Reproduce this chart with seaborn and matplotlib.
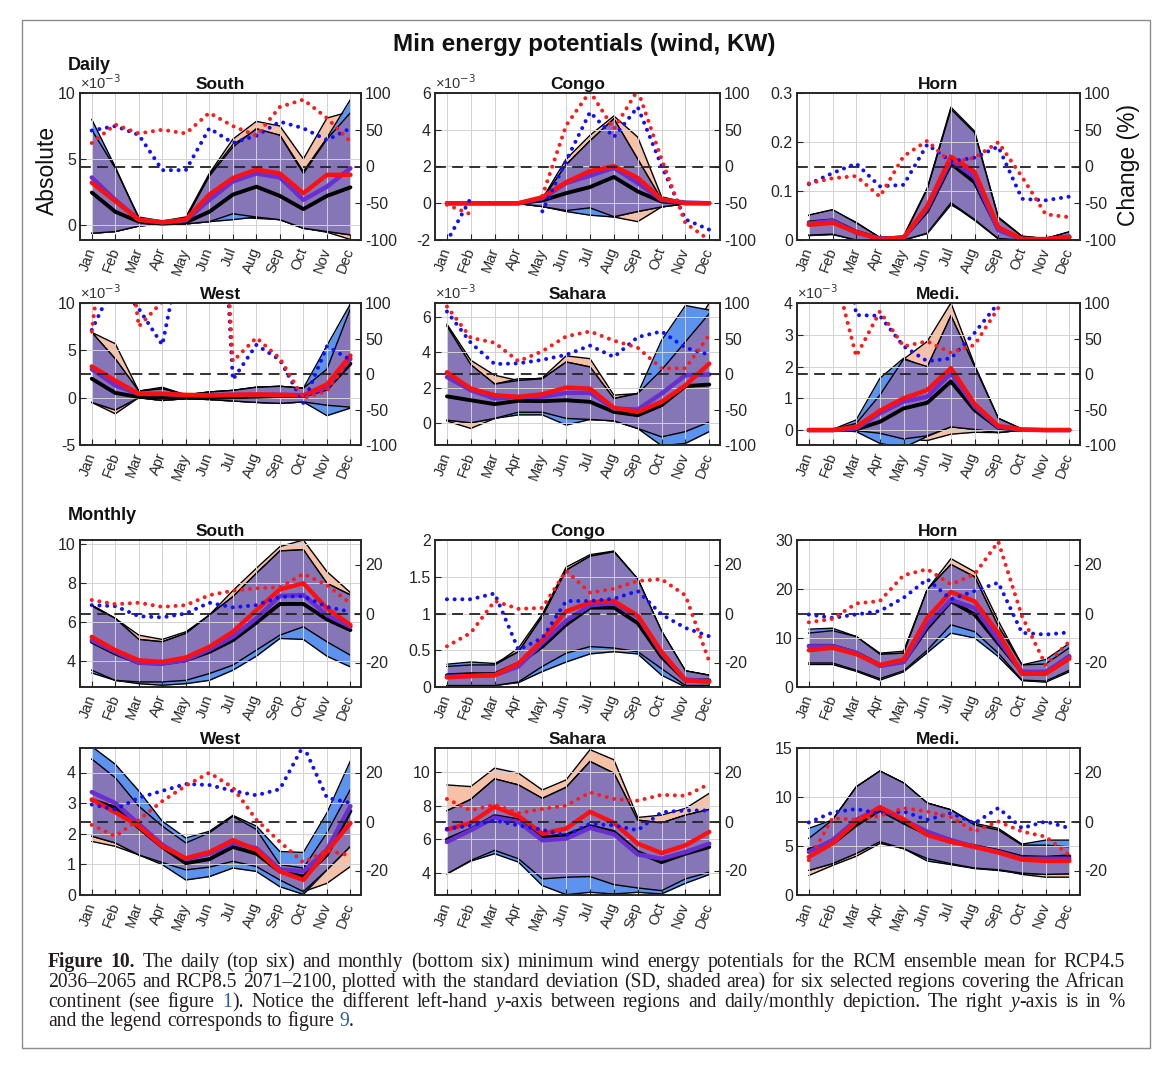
import numpy as np
import matplotlib
matplotlib.use("Agg")
import matplotlib.pyplot as plt
import seaborn as sns
from matplotlib.patches import Rectangle
from matplotlib.ticker import FuncFormatter

nan = np.nan
months = ["Jan", "Feb", "Mar", "Apr", "May", "Jun", "Jul", "Aug", "Sep", "Oct", "Nov", "Dec"]

# ------------------------- DAILY (x1e-3 except Horn) -------------------------
# South
ds_hist = [2.46, 1.0, 0.25, 0.1, 0.2, 1.0, 2.3, 2.9, 2.2, 1.2, 2.2, 2.85]
ds_r45 = [3.6, 1.9, 0.4, 0.2, 0.35, 1.9, 3.3, 3.9, 3.6, 1.9, 2.9, 4.3]
ds_r85 = [3.2, 1.8, 0.4, 0.2, 0.4, 2.3, 3.55, 4.2, 3.9, 2.4, 3.8, 3.8]
ds_hist_hi = [7.2, 4.3, 0.5, 0.25, 0.45, 3.7, 5.9, 7.3, 6.8, 3.9, 6.5, 8.5]
ds_hist_lo = [-0.63, -0.5, -0.08, 0.08, 0.08, 0.25, 0.85, 0.6, 0.4, -0.25, -0.5, -0.75]
ds_r45_hi = [8.0, 4.4, 0.5, 0.25, 0.45, 3.8, 6.1, 7.2, 6.8, 4.05, 6.6, 9.5]
ds_r45_lo = [-0.63, -0.5, -0.08, 0.08, 0.08, 0.25, 0.4, 0.6, 0.4, -0.25, -0.5, -0.75]
ds_r85_hi = [7.1, 4.2, 0.6, 0.3, 0.6, 3.9, 6.5, 7.85, 7.5, 5.0, 8.1, 8.6]
ds_r85_lo = [-0.63, -0.5, -0.08, 0.08, 0.08, 0.25, 0.6, 0.5, 0.4, -0.25, -0.55, -1.1]
ds_c45 = [49, 55, 43, -5, -5, 52, 32, 42, 61, 52, 36, 52]
ds_c85 = [32, 57, 45, 50, 45, 73, 55, 42, 81, 91, 66, 34]

# Congo
dc_hist = [0, 0, 0, 0, 0.15, 0.55, 0.88, 1.43, 0.64, 0.09, 0, 0]
dc_r45 = [0, 0, 0, 0, 0.27, 1.1, 1.5, 1.93, 1.1, 0.18, 0.04, 0]
dc_r85 = [0, 0, 0, 0, 0.33, 1.15, 1.75, 2.02, 1.38, 0.22, 0, 0]
dc_hist_hi = [0.05, 0.05, 0.05, 0.05, 0.22, 2.1, 3.4, 4.6, 2.4, 0.2, 0.05, 0.05]
dc_hist_lo = [-0.02, -0.02, -0.02, -0.02, -0.18, -0.4, -0.25, -0.73, -0.45, -0.2, -0.03, -0.02]
dc_r45_hi = [0.05, 0.05, 0.05, 0.05, 0.22, 2.1, 3.4, 4.6, 2.4, 0.2, 0.05, 0.05]
dc_r45_lo = [-0.02, -0.02, -0.02, -0.02, -0.18, -0.45, -0.65, -0.75, -0.45, -0.2, -0.03, -0.02]
dc_r85_hi = [0.05, 0.05, 0.05, 0.05, 0.25, 2.4, 3.7, 4.75, 3.6, 0.35, 0.05, 0.05]
dc_r85_lo = [-0.02, -0.02, -0.02, -0.02, -0.18, -0.4, -0.5, -0.75, -1.0, -0.2, -0.03, -0.02]
dc_c45 = [-102, -43, nan, nan, -61, 8, 74, 40, 81, 1, -72, -86]
dc_c85 = [-52, -65, nan, nan, -40, 56, 102, 51, 104, 10, -77, -100]

# Horn
dh_hist = [0.036, 0.040, 0.017, 0.003, 0.005, 0.059, 0.156, 0.118, 0.021, 0.002, 0.002, 0.007]
dh_r45 = [0.034, 0.039, 0.015, 0.003, 0.004, 0.065, 0.163, 0.128, 0.020, 0.002, 0.001, 0.006]
dh_r85 = [0.031, 0.035, 0.016, 0.002, 0.005, 0.069, 0.170, 0.139, 0.026, 0.002, 0.002, 0.006]
dh_hist_hi = [0.051, 0.062, 0.035, 0.005, 0.007, 0.104, 0.267, 0.219, 0.045, 0.007, 0.003, 0.017]
dh_hist_lo = [0.010, 0.012, 0.0, 0.0, 0.0, 0.014, 0.076, 0.042, 0.003, 0.0, 0.0, 0.0]
dh_r45_hi = [0.050, 0.060, 0.034, 0.005, 0.007, 0.102, 0.265, 0.217, 0.044, 0.007, 0.003, 0.016]
dh_r45_lo = [0.009, 0.011, 0.0, 0.0, 0.0, 0.013, 0.072, 0.044, 0.003, 0.0, 0.0, 0.0]
dh_r85_hi = [0.050, 0.061, 0.036, 0.005, 0.008, 0.106, 0.271, 0.222, 0.047, 0.008, 0.003, 0.016]
dh_r85_lo = [0.010, 0.013, 0.0, 0.0, 0.0, 0.014, 0.074, 0.040, 0.002, 0.0, 0.0, 0.0]
dh_c45 = [-24, -9, 4, -27, -25, 30, 7, 12, 27, -44, -46, -41]
dh_c85 = [-23, -16, -13, -41, 14, 35, 5, 12, 33, -14, -65, -69]

# West
dw_hist = [2.0, 0.5, 0.07, 0.0, 0.0, 0.0, 0.05, 0.1, 0.18, 0.18, 0.95, 3.6]
dw_r45 = [3.0, 1.3, 0.4, 0.4, 0.25, 0.25, 0.3, 0.3, 0.3, 0.25, 1.1, 4.1]
dw_r85 = [3.3, 1.8, 0.4, 0.4, 0.3, 0.25, 0.3, 0.35, 0.3, 0.25, 1.4, 4.45]
dw_hist_hi = [6.9, 4.1, 0.7, 0.95, 0.3, 0.6, 0.77, 1.1, 1.2, 1.0, 3.0, 9.4]
dw_hist_lo = [-0.5, -1.3, 0.0, -0.3, -0.1, -0.2, -0.35, -0.5, -0.6, -0.45, -0.8, -1.0]
dw_r45_hi = [6.9, 4.1, 0.7, 0.95, 0.3, 0.6, 0.77, 1.1, 1.2, 1.0, 5.5, 9.9]
dw_r45_lo = [-0.5, -1.3, 0.0, -0.3, -0.1, -0.2, -0.35, -0.5, -0.6, -0.45, -1.9, -1.1]
dw_r85_hi = [6.9, 5.7, 0.7, 1.1, 0.3, 0.6, 0.77, 1.1, 1.2, 1.0, 3.0, 9.9]
dw_r85_lo = [-0.5, -1.7, 0.0, -0.3, -0.1, -0.2, -0.35, -0.5, -0.6, -0.45, -0.8, -1.0]
dw_c45 = [62, 131, 92, 41, 205, 600, -8, 41, 20, -41, 39, 20]
dw_c85 = [60, 320, 67, 102, 300, 600, 18, 51, 22, -34, -24, 22]

# Sahara
dsa_hist = [1.5, 1.28, 1.06, 1.25, 1.23, 1.28, 1.19, 0.62, 0.43, 1.0, 2.08, 2.17]
dsa_r45 = [2.6, 1.85, 1.38, 1.47, 1.47, 1.7, 1.7, 0.81, 0.75, 1.66, 2.7, 2.74]
dsa_r85 = [2.87, 1.94, 1.57, 1.47, 1.62, 2.0, 1.94, 0.85, 0.62, 1.19, 2.13, 3.36]
dsa_hist_hi = [5.5, 3.3, 2.2, 2.4, 2.5, 3.45, 3.17, 1.38, 1.66, 3.0, 4.6, 6.2]
dsa_hist_lo = [0.15, 0.0, 0.25, 0.6, 0.6, 0.25, 0.19, 0.11, -0.32, -0.8, -0.5, 0.05]
dsa_r45_hi = [5.5, 3.3, 2.2, 2.5, 2.5, 3.45, 3.17, 1.38, 1.66, 4.68, 6.66, 6.4]
dsa_r45_lo = [0.15, 0.0, 0.25, 0.45, 0.45, -0.13, 0.19, 0.11, -0.32, -1.3, -1.17, -0.5]
dsa_r85_hi = [5.6, 3.55, 2.7, 2.4, 2.55, 3.8, 3.64, 1.57, 1.66, 3.0, 4.6, 6.8]
dsa_r85_lo = [0.1, -0.32, 0.25, 0.6, 0.6, 0.25, 0.19, 0.11, -0.32, -0.8, -0.5, 0.05]
dsa_c45 = [88, 44, 14, 15, 20, 27, 40, 24, 52, 60, 37, 27]
dsa_c85 = [95, 51, 44, 18, 32, 53, 60, 47, 37, 8, 8, 55]

# Medi.
dm_hist = [0, 0, 0.02, 0.26, 0.68, 0.86, 1.53, 0.63, 0.07, 0, 0, 0]
dm_r45 = [0, 0, 0.05, 0.53, 0.9, 1.05, 1.79, 0.74, 0.1, 0.01, 0, 0]
dm_r85 = [0, 0, 0.1, 0.61, 1.0, 1.26, 1.95, 0.82, 0.13, 0.02, 0, 0]
dm_hist_hi = [0, 0.02, 0.21, 1.1, 2.23, 2.0, 3.6, 2.0, 0.37, 0.03, 0, 0]
dm_hist_lo = [0, 0, -0.02, -0.1, -0.28, -0.18, 0.1, 0.02, -0.08, 0, 0, 0]
dm_r45_hi = [0, 0.02, 0.32, 1.63, 2.26, 1.95, 3.6, 2.0, 0.37, 0.03, 0, 0]
dm_r45_lo = [0, 0, -0.05, -0.42, -0.55, -0.2, 0.1, 0.02, -0.08, 0, 0, 0]
dm_r85_hi = [0, 0.02, 0.21, 1.1, 2.23, 2.79, 4.0, 2.05, 0.37, 0.03, 0, 0]
dm_r85_lo = [0, 0, -0.02, -0.1, -0.28, -0.33, -0.13, -0.07, -0.08, 0, 0, 0]
dm_c45 = [nan, 326, 83, 82, 39, 18, 22, 58, 100, nan, nan, nan]
dm_c85 = [nan, 156, 25, 88, 39, 46, 30, 41, 93, nan, nan, nan]

# ------------------------- MONTHLY -------------------------
# South
ms_hist = [4.98, 4.38, 3.9, 3.86, 4.03, 4.46, 5.06, 5.96, 6.92, 6.92, 6.13, 5.58]
ms_r45 = [5.06, 4.46, 3.9, 3.86, 4.05, 4.58, 5.23, 6.18, 7.33, 7.38, 6.35, 5.75]
ms_r85 = [5.23, 4.55, 4.03, 3.95, 4.17, 4.72, 5.49, 6.6, 7.67, 7.98, 6.69, 5.84]
ms_hist_hi = [6.81, 6.18, 5.1, 4.98, 5.41, 6.35, 7.29, 8.49, 9.64, 9.7, 7.98, 7.38]
ms_hist_lo = [3.52, 3.0, 2.92, 2.92, 3.0, 3.35, 3.78, 4.55, 5.32, 5.75, 4.98, 4.29]
ms_r45_hi = [6.86, 6.18, 5.1, 4.98, 5.41, 6.35, 7.29, 8.49, 9.64, 9.7, 7.98, 7.38]
ms_r45_lo = [3.38, 3.0, 2.83, 2.75, 2.83, 3.0, 3.52, 4.24, 5.15, 5.1, 4.24, 3.69]
ms_r85_hi = [6.86, 6.18, 5.32, 5.1, 5.49, 6.35, 7.6, 8.75, 9.86, 10.2, 8.58, 7.5]
ms_r85_lo = [3.52, 3.0, 2.92, 2.92, 3.0, 3.35, 3.78, 4.55, 5.32, 5.75, 4.98, 4.29]
ms_c45 = [3.4, 3.0, -1.1, -1.6, 0.0, 4.4, 2.5, 3.4, 6.8, 7.1, 2.7, 0.7]
ms_c85 = [5.5, 3.8, 4.4, 2.7, 3.4, 7.5, 9.3, 10.3, 10.7, 16.2, 11.6, 4.1]

# Congo
mc_hist = [0.16, 0.175, 0.175, 0.32, 0.55, 0.85, 1.08, 1.08, 0.87, 0.41, 0.09, 0.09]
mc_r45 = [0.14, 0.15, 0.16, 0.28, 0.6, 0.9, 1.11, 1.14, 0.96, 0.46, 0.1, 0.08]
mc_r85 = [0.13, 0.15, 0.16, 0.32, 0.64, 1.03, 1.15, 1.17, 0.97, 0.48, 0.09, 0.07]
mc_hist_hi = [0.28, 0.3, 0.3, 0.48, 0.96, 1.59, 1.78, 1.84, 1.47, 0.76, 0.22, 0.16]
mc_hist_lo = [0.02, 0.02, 0.02, 0.07, 0.28, 0.46, 0.55, 0.53, 0.48, 0.25, 0.02, 0.02]
mc_r45_hi = [0.31, 0.34, 0.32, 0.48, 0.96, 1.59, 1.78, 1.84, 1.47, 0.76, 0.22, 0.16]
mc_r45_lo = [0.02, 0.02, 0.02, 0.06, 0.21, 0.34, 0.45, 0.48, 0.45, 0.16, 0.0, 0.0]
mc_r85_hi = [0.28, 0.3, 0.3, 0.53, 0.99, 1.63, 1.8, 1.85, 1.47, 0.76, 0.22, 0.16]
mc_r85_lo = [0.02, 0.02, 0.02, 0.07, 0.28, 0.46, 0.55, 0.53, 0.48, 0.25, 0.02, 0.02]
mc_c45 = [5.8, 5.8, 8.2, -14.8, -10.0, 5.1, 5.1, 6.0, 9.2, -0.4, -5.9, -9.3]
mc_c85 = [-13.4, -7.9, 5.1, 1.9, 2.3, 17.4, 8.5, 10.1, 13.3, 14.0, 7.4, -19.6]

# Horn
mh_hist = [8.4, 8.4, 7.0, 4.5, 5.1, 12.0, 17.5, 14.8, 8.9, 3.1, 2.9, 6.3]
mh_r45 = [8.3, 8.3, 7.0, 4.3, 5.1, 12.7, 17.8, 16.1, 9.6, 3.1, 3.1, 6.2]
mh_r85 = [7.5, 8.0, 6.7, 4.5, 5.6, 14.1, 19.4, 17.5, 11.0, 2.7, 2.7, 5.8]
mh_hist_hi = [11.0, 11.5, 10.3, 6.7, 6.9, 19.9, 25.0, 22.5, 12.4, 4.5, 4.7, 8.0]
mh_hist_lo = [4.9, 4.9, 3.4, 1.7, 3.3, 7.5, 12.7, 11.3, 6.9, 1.4, 1.2, 3.4]
mh_r45_hi = [11.8, 12.0, 10.3, 6.7, 6.9, 19.9, 25.0, 22.5, 12.4, 4.5, 5.6, 8.9]
mh_r45_lo = [4.6, 4.6, 3.2, 1.4, 3.1, 7.0, 11.0, 10.0, 6.2, 1.3, 1.0, 3.1]
mh_r85_hi = [11.0, 11.5, 10.3, 6.9, 7.3, 19.9, 26.2, 23.5, 13.5, 4.5, 4.7, 8.0]
mh_r85_lo = [4.9, 4.9, 3.4, 1.7, 3.3, 7.5, 12.7, 11.3, 6.9, 1.4, 1.2, 3.4]
mh_c45 = [-0.4, -1.8, -0.4, 1.0, 6.4, 14.0, 5.8, 9.2, 12.6, -7.9, -8.6, -7.7]
mh_c85 = [-3.6, -2.2, 4.1, 5.1, 15.6, 18.1, 11.9, 16.0, 29.3, -1.1, -21.0, -11.4]

# West
mw_hist = [3.1, 2.85, 2.2, 1.57, 1.04, 1.17, 1.57, 1.35, 0.77, 0.6, 1.31, 2.74]
mw_r45 = [3.36, 3.0, 2.32, 1.64, 1.17, 1.35, 1.7, 1.53, 0.84, 0.77, 1.48, 2.9]
mw_r85 = [3.12, 2.7, 2.25, 1.59, 1.2, 1.4, 1.79, 1.48, 0.77, 0.49, 1.42, 2.35]
mw_hist_hi = [4.44, 3.83, 2.9, 2.25, 1.7, 2.03, 2.57, 2.14, 0.99, 0.88, 2.03, 3.45]
mw_hist_lo = [1.92, 1.7, 1.31, 1.06, 0.82, 0.91, 1.1, 0.93, 0.49, 0.11, 0.82, 1.59]
mw_r45_hi = [4.85, 4.27, 3.4, 2.41, 1.86, 2.08, 2.6, 2.25, 1.42, 1.39, 2.68, 4.38]
mw_r45_lo = [1.92, 1.7, 1.31, 0.99, 0.49, 0.6, 0.88, 0.77, 0.27, 0.02, 0.82, 1.59]
mw_r85_hi = [4.44, 3.83, 2.9, 2.25, 1.7, 2.03, 2.57, 2.14, 0.99, 0.88, 2.03, 3.45]
mw_r85_lo = [1.75, 1.59, 1.31, 1.06, 0.82, 0.91, 1.1, 0.93, 0.49, 0.11, 0.38, 0.93]
mw_c45 = [6.9, 4.9, 9.7, 12.5, 15.3, 14.9, 12.5, 10.7, 13.2, 31.0, 9.7, 7.6]
mw_c85 = [-1.4, -6.0, 0.7, 8.3, 14.6, 19.9, 13.9, 0.7, -8.3, -16.7, -11.8, -13.9]

# Sahara
msa_hist = [5.98, 6.58, 7.38, 7.14, 6.1, 6.24, 6.78, 6.44, 5.24, 4.64, 5.14, 5.54]
msa_r45 = [5.84, 6.54, 7.3, 7.04, 5.94, 6.04, 6.68, 6.3, 5.1, 4.84, 5.24, 5.74]
msa_r85 = [6.58, 6.98, 7.94, 7.38, 6.34, 6.64, 7.64, 6.98, 5.74, 5.18, 5.64, 6.44]
msa_hist_hi = [7.7, 8.38, 9.6, 9.24, 8.44, 9.1, 10.64, 9.94, 7.14, 6.98, 7.44, 7.78]
msa_hist_lo = [3.94, 4.74, 5.34, 4.84, 3.64, 3.74, 3.78, 3.3, 3.1, 2.94, 3.64, 4.04]
msa_r45_hi = [7.7, 8.38, 9.6, 9.24, 8.44, 9.1, 10.64, 9.94, 7.14, 6.98, 7.44, 7.78]
msa_r45_lo = [3.94, 4.7, 5.14, 4.64, 3.24, 2.7, 2.84, 2.74, 2.84, 2.74, 3.38, 3.9]
msa_r85_hi = [9.24, 9.14, 10.24, 9.94, 8.94, 9.54, 11.34, 10.74, 7.3, 7.44, 7.84, 8.74]
msa_r85_lo = [3.94, 4.74, 5.34, 4.84, 3.64, 3.74, 3.78, 3.3, 3.1, 2.94, 3.64, 4.04]
msa_c45 = [-3.0, -1.6, 0.4, -1.6, -3.4, -5.7, -0.9, -1.6, -3.6, 3.8, 4.5, 4.5]
msa_c85 = [9.2, 4.5, 6.9, 3.4, 5.1, 6.5, 11.9, 9.2, 8.5, 10.9, 10.5, 15.3]

# Medi.
mm_hist = [4.64, 5.26, 7.15, 8.69, 7.39, 6.22, 5.43, 4.98, 4.5, 3.88, 3.81, 3.95]
mm_r45 = [4.4, 5.6, 7.66, 8.87, 7.66, 6.46, 5.6, 4.91, 4.4, 3.71, 3.71, 3.71]
mm_r85 = [3.88, 5.26, 7.49, 8.97, 7.73, 6.12, 5.43, 4.91, 4.33, 3.61, 3.47, 3.47]
mm_hist_hi = [5.77, 7.66, 11.03, 12.65, 11.44, 9.38, 8.69, 7.15, 6.63, 5.09, 5.09, 4.91]
mm_hist_lo = [2.51, 3.2, 4.23, 5.43, 4.74, 3.71, 3.2, 2.75, 2.58, 2.23, 2.1, 2.16]
mm_r45_hi = [6.8, 7.66, 11.03, 12.65, 11.44, 9.38, 8.69, 7.32, 6.8, 5.19, 5.6, 5.6]
mm_r45_lo = [2.51, 3.2, 4.23, 5.43, 4.74, 3.47, 3.1, 2.7, 2.5, 2.2, 2.1, 2.16]
mm_r85_hi = [5.77, 7.66, 11.03, 12.65, 11.44, 9.38, 8.69, 7.15, 6.63, 5.09, 5.09, 4.91]
mm_r85_lo = [1.99, 3.02, 3.95, 5.26, 4.74, 3.71, 3.2, 2.75, 2.58, 2.1, 1.82, 1.82]
mm_c45 = [-0.4, 3.7, 5.1, 3.2, 4.1, 0.7, 3.4, -0.7, 5.5, -2.7, 0.0, -2.7]
mm_c85 = [-15.8, 1.4, 0.7, 2.3, 5.5, 4.1, 1.8, -4.1, 0.0, -4.1, -6.2, -13.7]

# ------------------------- styling -------------------------
sns.set_theme(style="white")
plt.rcParams["font.family"] = ["Liberation Sans", "DejaVu Sans"]
plt.rcParams["axes.unicode_minus"] = False
plt.rcParams["axes.axisbelow"] = "line"

SALMON = "#f7c1a8"
BLUE = "#5b93ee"
PURPLE = "#8776b7"
PURPLE_LINE = "#6a2fd0"
RED = "#ff1010"
DOT_BLUE = "#1010ff"
DOT_RED = "#ff1a1a"
TXT = "#262626"

W, H = 1173, 1068
fig = plt.figure(figsize=(W / 100, H / 100), dpi=100)
fig.patch.set_facecolor("white")

def px_rect(x0, x1, y0, y1):
    return [x0 / W, 1 - y1 / H, (x1 - x0) / W, (y1 - y0) / H]

cols = [(80, 361), (435, 720), (797, 1080)]
rows = [(93, 240), (303, 445), (540, 687), (748, 895)]
xm = np.arange(1, 13)
fmt = FuncFormatter(lambda v, p: f"{v:g}")

def seg_line(ax, ys, **kw):
    ys = np.asarray(ys, float)
    idx = np.where(~np.isnan(ys))[0]
    if len(idx) == 0:
        return
    groups = np.split(idx, np.where(np.diff(idx) != 1)[0] + 1)
    for g in groups:
        if len(g) > 1:
            sns.lineplot(x=xm[g], y=ys[g], ax=ax, **kw)

def panel(r, c, title, hist, r45, r85, hh, hl, bh, bl, sh, sl, c45, c85,
          ylim, yticks, sci, rlim, rticks):
    ax = fig.add_axes(px_rect(cols[c][0], cols[c][1], rows[r][0], rows[r][1]))
    for lo, hi, col, z in [(sl, sh, SALMON, 1.0), (bl, bh, BLUE, 1.1), (hl, hh, PURPLE, 1.2)]:
        ax.fill_between(xm, lo, hi, color=col, lw=0, zorder=z)
        for edge in (lo, hi):
            sns.lineplot(x=xm, y=edge, ax=ax, color="black", linewidth=1.0, zorder=z + 0.05)
    sns.lineplot(x=xm, y=hist, ax=ax, color="black", linewidth=2.8, zorder=2.0)
    sns.lineplot(x=xm, y=r45, ax=ax, color=PURPLE_LINE, linewidth=3.2, zorder=2.1)
    sns.lineplot(x=xm, y=r85, ax=ax, color=RED, linewidth=3.2, zorder=2.2)
    ax.set_xlim(0.5, 12.45)
    ax.set_ylim(*ylim)
    ax.set_yticks(yticks)
    ax.yaxis.set_major_formatter(fmt)
    ax.set_xticks(xm)
    ax.set_xticklabels(months, rotation=70, ha="right", va="center",
                       rotation_mode="anchor", fontsize=10.5, color=TXT)
    ax.tick_params(axis="x", bottom=True, direction="in", length=4, width=0.8, pad=6)
    ax.tick_params(axis="y", left=True, direction="in", length=4, width=0.8,
                   labelsize=11.5, pad=3, labelcolor=TXT)
    ax.grid(True, color="#d2d2d2", linewidth=0.7)
    ax.set_xlabel("")
    ax.set_ylabel("")
    for s in ax.spines.values():
        s.set_color("#222222")
        s.set_linewidth(1.1)
    ax.set_title(title, fontsize=12.5, fontweight="bold", pad=3, color="#111111")
    if sci:
        ax.text(0.0, 1.005, "×10$^{-3}$", transform=ax.transAxes, ha="left",
                va="bottom", fontsize=10.5, color="#333333")
    ax2 = ax.twinx()
    ax2.axhline(0, color="#222222", linewidth=1.3, linestyle=(0, (6, 3.5)), zorder=1)
    dot = (0, (0.01, 1.9))
    seg_line(ax2, c45, color=DOT_BLUE, linewidth=2.9, linestyle=dot,
             dash_capstyle="round", zorder=2)
    seg_line(ax2, c85, color=DOT_RED, linewidth=2.9, linestyle=dot,
             dash_capstyle="round", zorder=2.1)
    ax2.set_ylim(*rlim)
    ax2.set_yticks(rticks)
    ax2.yaxis.set_major_formatter(fmt)
    ax2.tick_params(axis="y", right=True, direction="in", length=4, width=0.8,
                    labelsize=11.5, pad=3, labelcolor=TXT)
    ax2.grid(False)
    ax2.set_ylabel("")
    ax2.set_xlim(0.5, 12.45)
    return ax, ax2

DR = (-100, 100)
DT = [-100, -50, 0, 50, 100]
MR = (-30, 30)
MT = [-20, 0, 20]

panel(0, 0, "South", ds_hist, ds_r45, ds_r85, ds_hist_hi, ds_hist_lo, ds_r45_hi, ds_r45_lo,
      ds_r85_hi, ds_r85_lo, ds_c45, ds_c85, (-1.14, 10), [0, 5, 10], True, DR, DT)
panel(0, 1, "Congo", dc_hist, dc_r45, dc_r85, dc_hist_hi, dc_hist_lo, dc_r45_hi, dc_r45_lo,
      dc_r85_hi, dc_r85_lo, dc_c45, dc_c85, (-2, 6), [-2, 0, 2, 4, 6], True, DR, DT)
panel(0, 2, "Horn", dh_hist, dh_r45, dh_r85, dh_hist_hi, dh_hist_lo, dh_r45_hi, dh_r45_lo,
      dh_r85_hi, dh_r85_lo, dh_c45, dh_c85, (0, 0.3), [0, 0.1, 0.2, 0.3], False, DR, DT)
panel(1, 0, "West", dw_hist, dw_r45, dw_r85, dw_hist_hi, dw_hist_lo, dw_r45_hi, dw_r45_lo,
      dw_r85_hi, dw_r85_lo, dw_c45, dw_c85, (-5, 10), [-5, 0, 5, 10], True, DR, DT)
panel(1, 1, "Sahara", dsa_hist, dsa_r45, dsa_r85, dsa_hist_hi, dsa_hist_lo, dsa_r45_hi, dsa_r45_lo,
      dsa_r85_hi, dsa_r85_lo, dsa_c45, dsa_c85, (-1.26, 6.8), [0, 2, 4, 6], True, DR, DT)
panel(1, 2, "Medi.", dm_hist, dm_r45, dm_r85, dm_hist_hi, dm_hist_lo, dm_r45_hi, dm_r45_lo,
      dm_r85_hi, dm_r85_lo, dm_c45, dm_c85, (-0.47, 4), [0, 1, 2, 3, 4], True, DR, DT)
panel(2, 0, "South", ms_hist, ms_r45, ms_r85, ms_hist_hi, ms_hist_lo, ms_r45_hi, ms_r45_lo,
      ms_r85_hi, ms_r85_lo, ms_c45, ms_c85, (2.66, 10.2), [4, 6, 8, 10], False, MR, MT)
panel(2, 1, "Congo", mc_hist, mc_r45, mc_r85, mc_hist_hi, mc_hist_lo, mc_r45_hi, mc_r45_lo,
      mc_r85_hi, mc_r85_lo, mc_c45, mc_c85, (0, 2), [0, 0.5, 1, 1.5, 2], False, MR, MT)
panel(2, 2, "Horn", mh_hist, mh_r45, mh_r85, mh_hist_hi, mh_hist_lo, mh_r45_hi, mh_r45_lo,
      mh_r85_hi, mh_r85_lo, mh_c45, mh_c85, (0, 30), [0, 10, 20, 30], False, MR, MT)
panel(3, 0, "West", mw_hist, mw_r45, mw_r85, mw_hist_hi, mw_hist_lo, mw_r45_hi, mw_r45_lo,
      mw_r85_hi, mw_r85_lo, mw_c45, mw_c85, (0, 4.8), [0, 1, 2, 3, 4], False, MR, MT)
panel(3, 1, "Sahara", msa_hist, msa_r45, msa_r85, msa_hist_hi, msa_hist_lo, msa_r45_hi, msa_r45_lo,
      msa_r85_hi, msa_r85_lo, msa_c45, msa_c85, (2.68, 11.44), [4, 6, 8, 10], False, MR, MT)
panel(3, 2, "Medi.", mm_hist, mm_r45, mm_r85, mm_hist_hi, mm_hist_lo, mm_r45_hi, mm_r45_lo,
      mm_r85_hi, mm_r85_lo, mm_c45, mm_c85, (0, 15), [0, 5, 10, 15], False, MR, MT)

# ------------------------- figure texts -------------------------
fig.text(584 / W, 1 - 45 / H, "Min energy potentials (wind, KW)", ha="center", va="center",
         fontsize=17.5, fontweight="bold", color="#111111")
fig.text(68 / W, 1 - 66 / H, "Daily", ha="left", va="center", fontsize=13, fontweight="bold",
         color="#111111")
fig.text(68 / W, 1 - 515 / H, "Monthly", ha="left", va="center", fontsize=13, fontweight="bold",
         color="#111111")
fig.text(47 / W, 1 - 170 / H, "Absolute", ha="center", va="center", rotation=90, fontsize=16.5,
         color="#111111")
fig.text(1128 / W, 1 - 165 / H, "Change (%)", ha="center", va="center", rotation=90,
         fontsize=16.5, color="#111111")

fig.patches.append(Rectangle((22 / W, 1 - 1048 / H), (1150 - 22) / W, (1048 - 20) / H,
                             transform=fig.transFigure, fill=False, edgecolor="#8c8c8c",
                             linewidth=1.0))

# ------------------------- caption (justified) -------------------------
SERIF = ["Liberation Serif", "DejaVu Serif"]
CAPC = "#231f20"
LINK = "#2b5ca8"
NRM = {}
BLD = {"fontweight": "bold"}
ITA = {"fontstyle": "italic"}
LNK = {"color": LINK}

def words(s, kw=NRM):
    return [[(w, kw)] for w in s.split()]

cap_lines = [
    words("Figure 10.", BLD) + words("The daily (top six) and monthly (bottom six) minimum wind "
                                     "energy potentials for the RCM ensemble mean for RCP4.5"),
    words("2036–2065 and RCP8.5 2071–2100, plotted with the standard deviation (SD, shaded area) "
          "for six selected regions covering the African"),
    words("continent (see figure") + [[("1", LNK), (").", NRM)]]
    + words("Notice the different left-hand") + [[("y", ITA), ("-axis", NRM)]]
    + words("between regions and daily/monthly depiction. The right") + [[("y", ITA), ("-axis", NRM)]]
    + words("is in %"),
    words("and the legend corresponds to figure") + [[("9", LNK), (".", NRM)]],
]
renderer = fig.canvas.get_renderer()

def seg_width(text, kw, fs):
    t = fig.text(0, 0, text, fontsize=fs, family=SERIF, **kw)
    w = t.get_window_extent(renderer).width
    t.remove()
    return w

def word_width(word, fs):
    return sum(seg_width(s, kw, fs) for s, kw in word)

X0, X1 = 48, 1125
base_fs = 10.0
nat = []
for ln in cap_lines[:3]:
    ww = sum(word_width(w, base_fs) for w in ln)
    sp = seg_width("a a", NRM, base_fs) - seg_width("aa", NRM, base_fs)
    nat.append(ww + sp * (len(ln) - 1))
cap_fs = base_fs * (X1 - X0) * 0.985 / max(nat)
space_w = seg_width("a a", NRM, cap_fs) - seg_width("aa", NRM, cap_fs)
baselines = [967, 987, 1007, 1026]
for li, ln in enumerate(cap_lines):
    widths = [word_width(w, cap_fs) for w in ln]
    if li < 3:
        gap = ((X1 - X0) - sum(widths)) / (len(ln) - 1)
    else:
        gap = space_w
    xpos = X0
    for w, wd in zip(ln, widths):
        xx = xpos
        for s, kw in w:
            kk = dict(kw)
            col = kk.pop("color", CAPC)
            fig.text(xx / W, 1 - baselines[li] / H, s, fontsize=cap_fs, family=SERIF,
                     color=col, ha="left", va="baseline", **kk)
            xx += seg_width(s, kw, cap_fs)
        xpos += wd + gap

fig.savefig("out.png", dpi=100, facecolor="white")
